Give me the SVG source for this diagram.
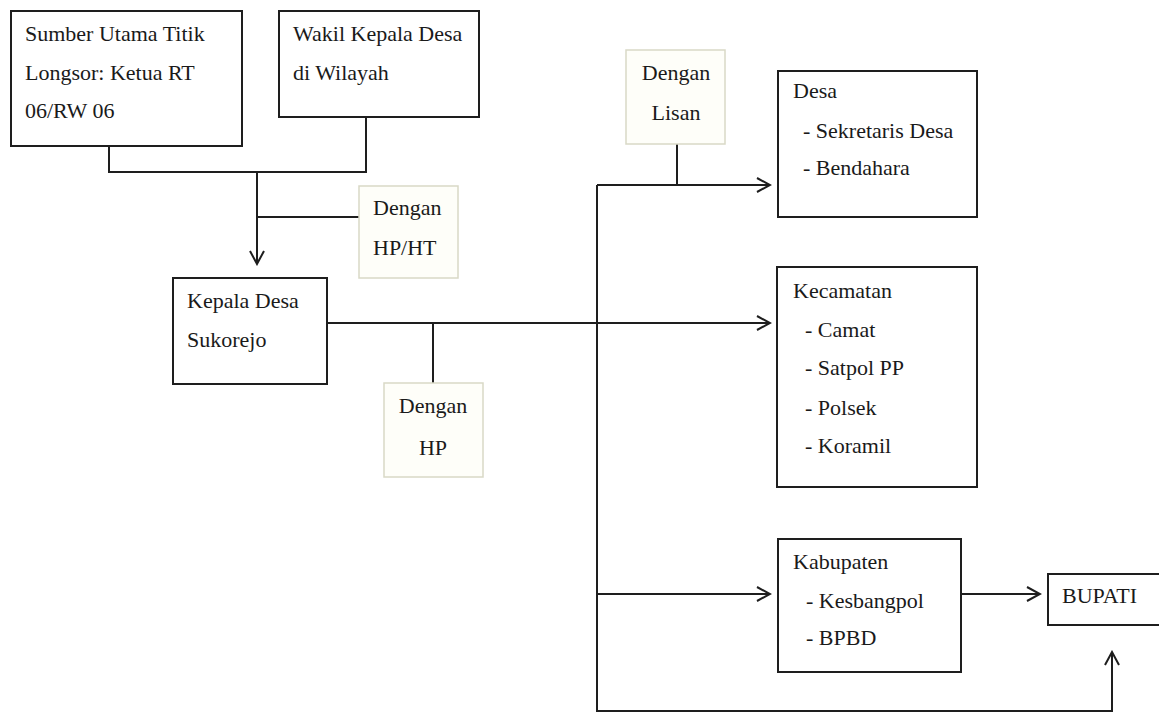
<svg xmlns="http://www.w3.org/2000/svg" width="1159" height="713" viewBox="0 0 1159 713" font-family="'Liberation Serif', 'Times New Roman', Times, serif">
<style>
.box{fill:#fff;stroke:#1e1e1e;stroke-width:2}
.lbl{fill:#fefef9;stroke:#d9d9c6;stroke-width:1.5}
text{font-family:'Liberation Serif','Times New Roman',Times,serif;font-size:22px;fill:#1a1a1a}
.c{text-anchor:middle}
.ln{fill:none;stroke:#1e1e1e;stroke-width:2}
</style>
<defs>
<marker id="ah" markerUnits="userSpaceOnUse" markerWidth="16" markerHeight="18" viewBox="0 0 16 18" refX="14" refY="9" orient="auto">
<path d="M1,2 L14,9 L1,16" fill="none" stroke="#1e1e1e" stroke-width="2"/>
</marker>
</defs>
<rect width="1159" height="713" fill="#fff"/>
<g id="connectors">
<path class="ln" d="M109,146 V172 H366 V117"/>
<path class="ln" d="M257,172 V264" marker-end="url(#ah)"/>
<path class="ln" d="M257,217 H359"/>
<path class="ln" d="M327,323 H770" marker-end="url(#ah)"/>
<path class="ln" d="M433,323 V383"/>
<path class="ln" d="M677,144 V185"/>
<path class="ln" d="M597,185 H770" marker-end="url(#ah)"/>
<path class="ln" d="M597,185 V711 H1112 V652" marker-end="url(#ah)"/>
<path class="ln" d="M597,594 H770" marker-end="url(#ah)"/>
<path class="ln" d="M961,594 H1040" marker-end="url(#ah)"/>
</g>
<g id="sumber">
<rect class="box" x="11" y="11" width="231" height="135"/>
<text x="25" y="41">Sumber Utama Titik</text>
<text x="25" y="80">Longsor: Ketua RT</text>
<text x="25" y="118">06/RW 06</text>
</g>
<g id="wakil">
<rect class="box" x="279" y="11" width="200" height="106"/>
<text x="293" y="41">Wakil Kepala Desa</text>
<text x="293" y="80">di Wilayah</text>
</g>
<g id="hpht">
<rect class="lbl" x="359" y="186" width="99" height="92"/>
<text x="373" y="215">Dengan</text>
<text x="373" y="255">HP/HT</text>
</g>
<g id="kepala">
<rect class="box" x="173" y="278" width="154" height="106"/>
<text x="187" y="308">Kepala Desa</text>
<text x="187" y="347">Sukorejo</text>
</g>
<g id="hp">
<rect class="lbl" x="384" y="383" width="99" height="94"/>
<text class="c" x="433" y="413">Dengan</text>
<text class="c" x="433" y="455">HP</text>
</g>
<g id="lisan">
<rect class="lbl" x="626" y="50" width="99" height="94"/>
<text class="c" x="676" y="80">Dengan</text>
<text class="c" x="676" y="120">Lisan</text>
</g>
<g id="desa">
<rect class="box" x="778" y="71" width="199" height="146"/>
<text x="793" y="98">Desa</text>
<text x="803" y="138">- Sekretaris Desa</text>
<text x="803" y="175">- Bendahara</text>
</g>
<g id="kecamatan">
<rect class="box" x="777" y="267" width="200" height="220"/>
<text x="793" y="298">Kecamatan</text>
<text x="805" y="337">- Camat</text>
<text x="805" y="375">- Satpol PP</text>
<text x="805" y="415">- Polsek</text>
<text x="805" y="453">- Koramil</text>
</g>
<g id="kabupaten">
<rect class="box" x="778" y="539" width="183" height="133"/>
<text x="793" y="569">Kabupaten</text>
<text x="806" y="608">- Kesbangpol</text>
<text x="806" y="645">- BPBD</text>
</g>
<g id="bupati">
<rect class="box" x="1048" y="574" width="120" height="51"/>
<text x="1062" y="603">BUPATI</text>
</g>
</svg>
